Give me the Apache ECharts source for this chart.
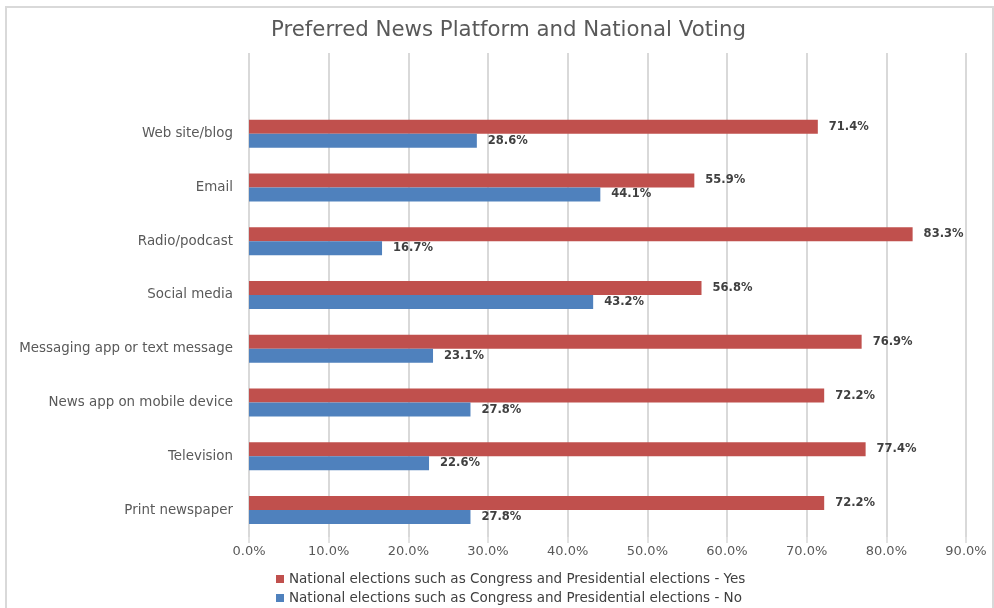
<!DOCTYPE html>
<html>
<head>
<meta charset="utf-8">
<title>Preferred News Platform and National Voting</title>
<script src="https://cdn.jsdelivr.net/npm/echarts@6/dist/echarts.min.js"></script>
<style>
  html, body { margin: 0; padding: 0; background: #ffffff; }
  #chart { width: 994px; height: 608px; }
</style>
</head>
<body>
<div id="chart"></div>
<script>
// Platforms listed bottom to top; the last blank slot leaves headroom above the first bars
const categories = [
  'Print newspaper',
  'Television',
  'News app on mobile device',
  'Messaging app or text message',
  'Social media',
  'Radio/podcast',
  'Email',
  'Web site/blog',
  ''
];
const yesValues = [72.2, 77.4, 72.2, 76.9, 56.8, 83.3, 55.9, 71.4, null];
const noValues  = [27.8, 22.6, 27.8, 23.1, 43.2, 16.7, 44.1, 28.6, null];
const seriesNames = [
  'National elections such as Congress and Presidential elections - Yes',
  'National elections such as Congress and Presidential elections - No'
];
const xTicks = { min: 0, max: 90, interval: 10 };

const FONT = '"DejaVu Sans", "Liberation Sans", sans-serif';
const pct = v => Number(v).toFixed(1) + '%';

const chart = echarts.init(document.getElementById('chart'), null, { renderer: 'canvas' });

const labelStyle = {
  show: true,
  position: 'right',
  distance: 11,
  color: '#404040',
  fontFamily: FONT,
  fontSize: 11.5,
  fontWeight: 'bold',
  formatter: p => pct(p.value)
};

chart.setOption({
  animation: false,
  backgroundColor: '#ffffff',
  title: {
    text: 'Preferred News Platform and National Voting',
    left: 266,
    top: 15,
    textStyle: {
      color: '#595959',
      fontFamily: FONT,
      fontSize: 21.3,
      fontWeight: 'normal'
    }
  },
  graphic: [{
    type: 'rect',
    shape: { x: 6, y: 7, width: 987, height: 640 },
    style: { fill: 'none', stroke: '#d9d9d9', lineWidth: 2 },
    silent: true,
    z: -1
  }],
  legend: {
    orient: 'vertical',
    left: 271,
    top: 567,
    height: 80,
    itemWidth: 8,
    itemHeight: 8,
    itemGap: 5,
    icon: 'rect',
    textStyle: { color: '#404040', fontFamily: FONT, fontSize: 13.5 },
    data: seriesNames
  },
  grid: { left: 249, right: 28, top: 53, bottom: 71, containLabel: false },
  xAxis: {
    type: 'value',
    min: xTicks.min,
    max: xTicks.max,
    interval: xTicks.interval,
    axisLine: { show: false },
    axisTick: { show: true, length: 6, lineStyle: { color: '#d9d9d9', width: 1.5 } },
    axisLabel: { color: '#595959', fontFamily: FONT, fontSize: 13, margin: 8, formatter: v => pct(v) },
    splitLine: { show: true, lineStyle: { color: '#d9d9d9', width: 2 } }
  },
  yAxis: {
    type: 'category',
    data: categories,
    axisLine: { show: false },
    axisTick: { show: false },
    axisLabel: { color: '#595959', fontFamily: FONT, fontSize: 13.4, margin: 16 },
    splitLine: { show: false }
  },
  series: [
    {
      name: seriesNames[0],
      type: 'bar',
      data: yesValues,
      barWidth: 14,
      barGap: '0%',
      itemStyle: { color: '#c0504d' },
      label: labelStyle
    },
    {
      name: seriesNames[1],
      type: 'bar',
      data: noValues,
      barWidth: 14,
      barGap: '0%',
      itemStyle: { color: '#4f81bd' },
      label: labelStyle
    }
  ]
});
</script>
</body>
</html>
